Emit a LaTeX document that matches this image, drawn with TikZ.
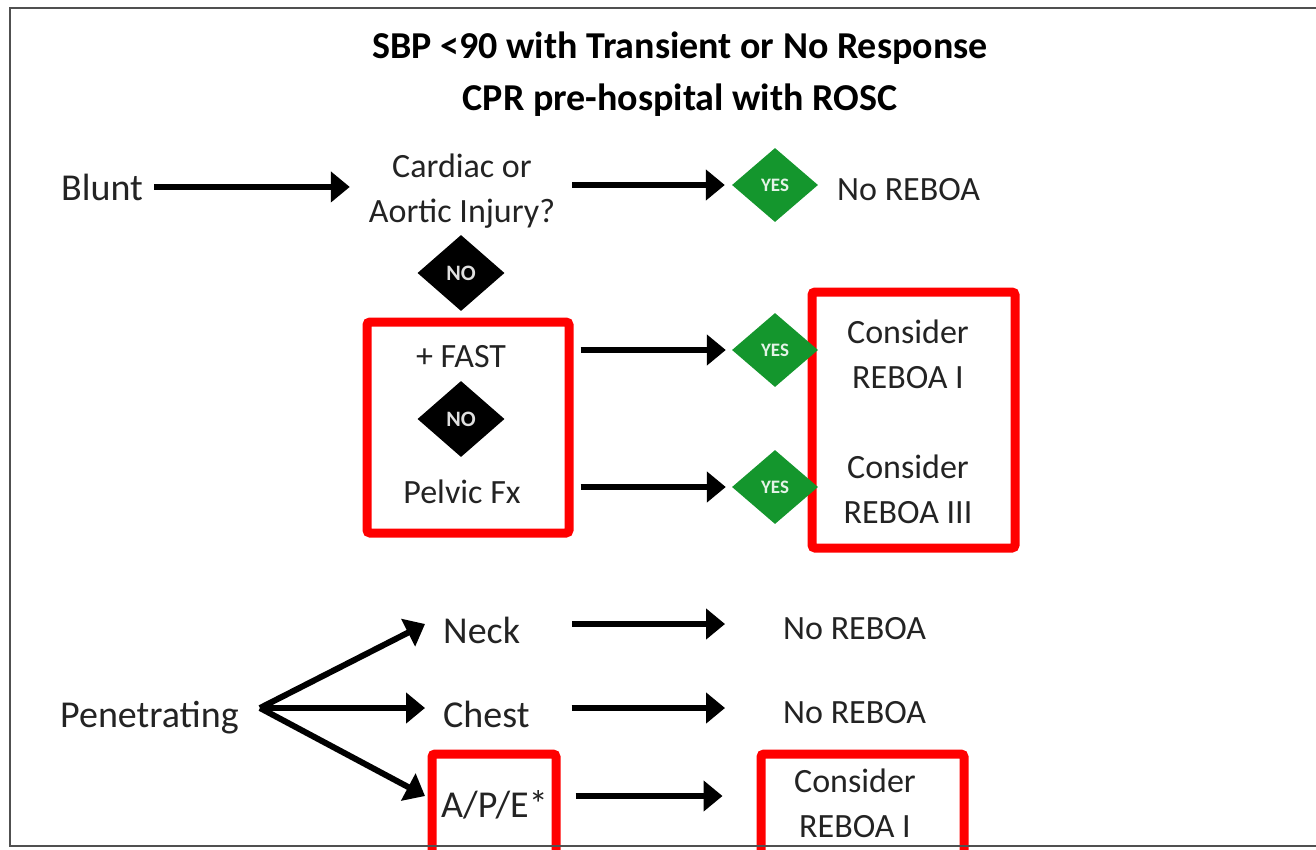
\documentclass[tikz,border=0pt]{standalone}
\usepackage{fontspec}
\setmainfont{Carlito}
\usetikzlibrary{shapes.geometric,arrows.meta}
\definecolor{okgreen}{RGB}{20,150,45}
\definecolor{framegray}{RGB}{80,80,80}
\definecolor{ink}{RGB}{35,35,35}
\begin{document}
\begin{tikzpicture}[x=1pt,y=-1pt,
  big/.style={font=\fontsize{38}{45}\selectfont, text=ink, inner sep=0pt},
  lbl/.style={font=\fontsize{34}{45}\selectfont, text=ink, align=center, inner sep=0pt},
  heading/.style={font=\fontsize{38}{52}\selectfont\bfseries, text=black, align=center, inner sep=0pt},
  flow/.style={line width=6pt, -{Triangle[length=19pt,width=30pt]}},
  yesdia/.style={diamond, fill=okgreen, minimum width=86pt, minimum height=74pt, inner sep=0pt,
    font=\fontsize{19}{19}\selectfont\bfseries, text=white!88!okgreen},
  nodia/.style={diamond, fill=black, minimum width=87pt, minimum height=76pt, inner sep=0pt,
    font=\fontsize{22}{22}\selectfont\bfseries, text=white!88!black},
  redbox/.style={draw=red, line width=9pt, rounded corners=3pt, rectangle, inner sep=0pt}
]
\useasboundingbox (0,0) rectangle (1316,849);

% red highlight frames
\node[redbox, minimum width=202pt, minimum height=211pt] (box1) at (468,427.5) {};
\node[redbox, minimum width=203pt, minimum height=256pt] (box2) at (913.5,420) {};
\node[redbox, minimum width=124pt, minimum height=116pt] (box3) at (494,812) {};
\node[redbox, minimum width=203pt, minimum height=116pt] (box4) at (862.5,812) {};

% outer frame
\draw[framegray, line width=2pt] (1330,8) -- (10,8) -- (10,846) -- (1330,846);

% heading (base anchor sits on the last line)
\node[heading, anchor=base] (title) at (680,110)
  {SBP <90 with Transient or No Response\\CPR pre-hospital with ROSC};

% blunt branch
\node[big, anchor=base west] (blunt) at (61,200) {Blunt};
\node[lbl, anchor=base] (cardiac) at (462,222) {Cardiac or\\Aortic Injury?};
\node[yesdia] (yes1) at (775,185) {YES};
\node[lbl, anchor=base west] (noreboa1) at (837,200) {No REBOA};
\node[nodia] (no1) at (461,273) {NO};
\node[lbl, anchor=base] (fast) at (461,367) {+ FAST};
\node[nodia] (no2) at (461,419) {NO};
\node[lbl, anchor=base] (pelvic) at (462,503) {Pelvic Fx};
\node[yesdia] (yes2) at (775,350) {YES};
\node[yesdia] (yes3) at (775,487) {YES};
\node[lbl, anchor=base] (reboa1) at (908,388) {Consider\\REBOA I};
\node[lbl, anchor=base] (reboa3) at (908,523) {Consider\\REBOA III};

\draw[flow, shorten <=11pt, shorten >=19pt] (blunt.east) -- (blunt.east -| cardiac.west);
\draw[flow, shorten <=17pt, shorten >=7pt] (cardiac.east |- yes1.west) -- (yes1.west);
\draw[flow, shorten <=7pt, shorten >=6pt] (box1.east |- yes2.west) -- (yes2.west);
\draw[flow, shorten <=7pt, shorten >=6pt] (box1.east |- yes3.west) -- (yes3.west);

% penetrating branch
\node[big, anchor=base west] (pen) at (60,727) {Penetrating};
\node[big, anchor=base west] (neck) at (443,643) {Neck};
\node[big, anchor=base west] (chest) at (443,727) {Chest};
\node[big, anchor=base west] (ape) at (441,817) {A/P/E*};
\node[lbl, anchor=base west] (noreboa2) at (783,639) {No REBOA};
\node[lbl, anchor=base west] (noreboa3) at (783,723) {No REBOA};
\node[lbl, anchor=base] (reboa4) at (855,837) {Consider\\REBOA I};

\coordinate (split) at (260,708);
\coordinate (necktip) at (425,624);
\coordinate (chesttip) at (425,708);
\coordinate (apetip) at (425,796);
\draw[flow, line join=round] (split) -- (necktip);
\draw[flow, line join=round] (split) -- (chesttip);
\draw[flow, line join=round] (split) -- (apetip);

\draw[flow, shorten <=52pt, shorten >=58pt] (neck.east |- necktip) -- (noreboa2.west |- necktip);
\draw[flow, shorten <=42pt, shorten >=58pt] (chest.east |- chesttip) -- (noreboa3.west |- chesttip);
\draw[flow, shorten <=15pt, shorten >=34pt] (box3.east |- apetip) -- (box4.west |- apetip);
\end{tikzpicture}
\end{document}
